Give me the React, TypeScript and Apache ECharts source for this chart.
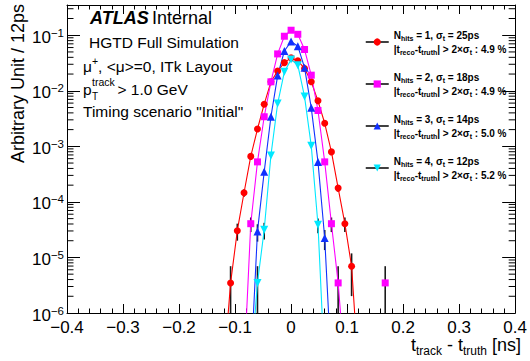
import React, { useEffect, useRef } from "react";
import * as echarts from "echarts";

// ---------------- data ----------------
const BIN_WIDTH = 0.012; // ns (12 ps bins)
const ENTRY_WEIGHT = 3.48e-6; // normalised weight of one entry
const Y_MIN = 1e-6;
const Y_MAX = 0.35;
const ZERO_FLOOR = 1e-7; // empty bins (drawn below the axis, clipped)

const X_MIN = -0.4;
const X_MAX = 0.4;
const X_INTERVAL = 0.1;

// bin indices (bin centre = index * BIN_WIDTH) and contents; null = not drawn
const hits1Bins = [-10, -9, -8, -7, -6, -5, -4, -3, -2, -1, 0, 1, 2, 3, 4, 5, 6, 7, 8, 9, 10];
const hits1Values = [0, 3.48e-6, 3.03e-5, 1.46e-4, 6.59e-4, 2.05e-3, 5.73e-3, 0.0145, 0.0226, 0.0321, 0.0391, 0.0346, 0.0252, 0.0145, 6.59e-3, 2.6e-3, 7.94e-4, 1.77e-4, 4.05e-5, 6.92e-6, 0];

const hits2Bins = [-7, -6, -5, -4, -3, -2, -1, 0, 1, 2, 3, 4, 5, 6, 7, 8, 9, 10, 11, 12, 13, 14];
const hits2Values = [0, 4.05e-5, 5.25e-4, 3.41e-3, 0.0145, 0.0461, 0.0959, 0.123, 0.104, 0.0553, 0.0191, 4.42e-3, 5.25e-4, 4.05e-5, 3.48e-6, 0, null, null, null, null, null, 3.48e-6];

const hits3Bins = [-6, -5, -4, -3, -2, -1, 0, 1, 2, 3, 4, 5, 6];
const hits3Values = [0, 2.94e-5, 3.47e-4, 3.41e-3, 0.01875, 0.052, 0.0771, 0.0635, 0.0261, 4.93e-3, 5.25e-4, 2.24e-5, 0];

const hits4Bins = [-6, -5, -4, -3, -2, -1, 0, 1, 2, 3, 4, 5];
const hits4Values = [0, 3.48e-6, 3.15e-5, 6.87e-4, 5.89e-3, 0.0219, 0.0366, 0.0289, 7.87e-3, 1.02e-3, 3.88e-5, 0];

const legendHits = [1, 2, 3, 4];
const legendSigma = [25, 18, 14, 12];
const legendTailFraction = ["4.9", "4.9", "5.0", "5.2"];

const seriesColors = ["#ff0000", "#ff00ff", "#1030ff", "#00e8ff"];
const seriesSymbols = ["circle", "rect", "triangle", "path://M0,0 L10,0 L5,9 Z"];
const seriesSymbolSizes = [7, 7, 8, 8];

const FONT = "'Liberation Sans', Arial, Helvetica, sans-serif";

const allBins = [hits1Bins, hits2Bins, hits3Bins, hits4Bins];
const allValues = [hits1Values, hits2Values, hits3Values, hits4Values];

const seriesName = (i: number) => `Nhits = ${legendHits[i]}`;

function buildLineData(bins: number[], values: (number | null)[]) {
  return bins.map((b, i) => {
    const v = values[i];
    const x = +(b * BIN_WIDTH).toFixed(4);
    if (v === null) return [x, "-"];
    return [x, v > 0 ? v : ZERO_FLOOR];
  });
}

function buildErrorData(bins: number[], values: (number | null)[]) {
  const out: number[][] = [];
  bins.forEach((b, i) => {
    const v = values[i];
    if (v === null || v <= 0) return;
    const err = Math.sqrt(v * ENTRY_WEIGHT);
    out.push([+(b * BIN_WIDTH).toFixed(4), Math.max(v - err, ZERO_FLOOR), v + err]);
  });
  return out;
}

function minorLogValues() {
  const out: number[][] = [];
  for (let e = -6; e <= -1; e++) {
    for (let m = 2; m <= 9; m++) {
      const v = m * Math.pow(10, e);
      if (v < Y_MAX) out.push([X_MIN, v]);
    }
  }
  return out;
}

const sub = (size: number) => ({ fontSize: size, fontFamily: FONT, color: "#000", fontWeight: "bold" as const, verticalAlign: "bottom" as const });

export default function App() {
  const ref = useRef<HTMLDivElement>(null);

  useEffect(() => {
    if (!ref.current) return;
    const chart = echarts.init(ref.current, null, { renderer: "svg" });

    const lineSeries = allBins.map((bins, i) => ({
      type: "line",
      name: seriesName(i),
      data: buildLineData(bins, allValues[i]),
      symbol: seriesSymbols[i],
      symbolSize: seriesSymbolSizes[i],
      showSymbol: true,
      connectNulls: false,
      clip: true,
      lineStyle: { color: seriesColors[i], width: 1.1 },
      itemStyle: { color: seriesColors[i], borderWidth: 0 },
      z: 3,
    }));

    const errorData: number[][] = [];
    allBins.forEach((bins, i) => errorData.push(...buildErrorData(bins, allValues[i])));

    const axisLineStyle = { color: "#000", width: 1 };

    const option: any = {
      animation: false,
      backgroundColor: "#fff",
      grid: { left: 67, right: 10, top: 5, bottom: 48 },
      xAxis: [
        {
          type: "value",
          min: X_MIN,
          max: X_MAX,
          interval: X_INTERVAL,
          position: "bottom",
          axisLine: { show: true, onZero: false, lineStyle: axisLineStyle },
          axisTick: { show: true, inside: true, length: 9, lineStyle: axisLineStyle },
          minorTick: { show: true, splitNumber: 5, length: 4.5, lineStyle: axisLineStyle },
          splitLine: { show: false },
          axisLabel: {
            color: "#000",
            fontSize: 17,
            fontFamily: FONT,
            margin: 6,
            lineHeight: 16,
            formatter: (v: number) => (Math.abs(v) < 1e-9 ? "0" : (v < 0 ? "\u2212" : "") + Math.abs(v).toFixed(1)),
          },
        },
        {
          type: "value",
          min: X_MIN,
          max: X_MAX,
          interval: X_INTERVAL,
          position: "top",
          axisLine: { show: true, onZero: false, lineStyle: axisLineStyle },
          axisTick: { show: true, inside: true, length: 9, lineStyle: axisLineStyle },
          minorTick: { show: true, splitNumber: 5, length: 4.5, lineStyle: axisLineStyle },
          splitLine: { show: false },
          axisLabel: { show: false },
        },
      ],
      yAxis: [
        {
          type: "log",
          logBase: 10,
          min: Y_MIN,
          max: Y_MAX,
          position: "left",
          axisLine: { show: true, onZero: false, lineStyle: axisLineStyle },
          axisTick: { show: true, inside: true, length: 13, lineStyle: axisLineStyle },
          splitLine: { show: false },
          axisLabel: {
            showMaxLabel: false,
            margin: 3,
            formatter: (v: number) => {
              const e = Math.log10(v);
              const r = Math.round(e);
              if (Math.abs(e - r) > 1e-6) return "";
              return `{b|10}{p|\u2212${-r}}`;
            },
            rich: {
              b: { fontSize: 17, fontFamily: FONT, color: "#000", lineHeight: 17, padding: [4, 0, 0, 0] },
              p: { fontSize: 11.5, fontFamily: FONT, color: "#000", verticalAlign: "top" },
            },
          },
        },
        {
          type: "log",
          logBase: 10,
          min: Y_MIN,
          max: Y_MAX,
          position: "right",
          axisLine: { show: true, onZero: false, lineStyle: axisLineStyle },
          axisTick: { show: true, inside: true, length: 13, lineStyle: axisLineStyle },
          splitLine: { show: false },
          axisLabel: { show: false },
        },
      ],
      legend: {
        orient: "vertical",
        left: 365,
        top: 30,
        padding: 0,
        itemGap: 16,
        itemWidth: 23,
        itemHeight: 9,
        selectedMode: false,
        data: legendHits.map((_, i) => seriesName(i)),
        lineStyle: { color: "#000", width: 1.5 },
        formatter: (name: string) => {
          const i = legendHits.findIndex((_, k) => seriesName(k) === name);
          return (
            `{b|N}{s|hits}{b| = ${legendHits[i]}, \u03c3}{s|t}{b| = ${legendSigma[i]}ps}\n` +
            `{b||t}{s|reco}{b|-t}{s|truth}{b|| > 2\u00d7\u03c3}{s|t}{b| : ${legendTailFraction[i]} %}`
          );
        },
        textStyle: {
          color: "#000",
          fontFamily: FONT,
          rich: {
            b: { fontSize: 10, fontFamily: FONT, color: "#000", fontWeight: "bold", lineHeight: 14 },
            s: sub(7),
          },
        },
      },
      graphic: [
        {
          type: "text",
          x: 90,
          y: 18,
          style: {
            text: "{a|ATLAS} {n|Internal}",
            verticalAlign: "middle",
            rich: {
              a: { fontSize: 18, fontFamily: FONT, fontWeight: "bold", fontStyle: "italic", fill: "#000" },
              n: { fontSize: 18, fontFamily: FONT, fill: "#000" },
            },
          },
        },
        {
          type: "text",
          x: 89,
          y: 42,
          style: { text: "HGTD Full Simulation", fontSize: 15.5, fontFamily: FONT, fill: "#000", verticalAlign: "middle" },
        },
        {
          type: "text",
          x: 83,
          y: 66,
          style: {
            text: "{n|\u03bc}{p|+}{n|, <\u03bc>=0, ITk Layout}",
            verticalAlign: "middle",
            rich: {
              n: { fontSize: 15.5, fontFamily: FONT, fill: "#000", lineHeight: 22 },
              p: { fontSize: 10.5, fontFamily: FONT, fill: "#000", verticalAlign: "top" },
            },
          },
        },
        {
          type: "text",
          x: 83,
          y: 89.5,
          style: { text: "p", fontSize: 15.5, fontFamily: FONT, fill: "#000", verticalAlign: "middle" },
        },
        {
          type: "text",
          x: 92,
          y: 81.5,
          style: { text: "track", fontSize: 10.5, fontFamily: FONT, fill: "#000", verticalAlign: "middle" },
        },
        {
          type: "text",
          x: 92,
          y: 96.5,
          style: { text: "T", fontSize: 10, fontFamily: FONT, fill: "#000", verticalAlign: "middle" },
        },
        {
          type: "text",
          x: 117.5,
          y: 89.5,
          style: { text: "> 1.0 GeV", fontSize: 15.5, fontFamily: FONT, fill: "#000", verticalAlign: "middle" },
        },
        {
          type: "text",
          x: 83,
          y: 111,
          style: { text: 'Timing scenario "Initial"', fontSize: 15.5, fontFamily: FONT, fill: "#000", verticalAlign: "middle" },
        },
        {
          type: "text",
          x: 18,
          y: 4,
          rotation: Math.PI / 2,
          style: { text: "Arbitrary Unit / 12ps", fontSize: 18, fontFamily: FONT, fill: "#000", align: "right", verticalAlign: "middle" },
        },
        {
          type: "text",
          x: 521,
          y: 345,
          style: {
            text: "{m|t}{s|track}{m| - t}{s|truth}{m| [ns]}",
            align: "right",
            verticalAlign: "middle",
            rich: {
              m: { fontSize: 18, fontFamily: FONT, fill: "#000", lineHeight: 24 },
              s: { fontSize: 12, fontFamily: FONT, fill: "#000", verticalAlign: "bottom" },
            },
          },
        },
      ],
      series: [
        {
          type: "custom",
          name: "errors",
          clip: true,
          z: 2,
          encode: { x: 0, y: [1, 2] },
          data: errorData,
          renderItem: (_p: any, api: any) => {
            const x = api.value(0);
            const lo = Math.max(api.value(1), Y_MIN);
            const hi = Math.min(api.value(2), Y_MAX);
            if (hi <= Y_MIN) return null;
            const p1 = api.coord([x, lo]);
            const p2 = api.coord([x, hi]);
            return {
              type: "line",
              shape: { x1: p1[0], y1: p1[1], x2: p2[0], y2: p2[1] },
              style: { stroke: "#1a1a1a", lineWidth: 1.6 },
            };
          },
        },
        {
          type: "custom",
          name: "minorTicks",
          z: 5,
          encode: { x: 0, y: 1 },
          data: minorLogValues(),
          renderItem: (_p: any, api: any) => {
            const v = api.value(1);
            const l = api.coord([X_MIN, v]);
            const r = api.coord([X_MAX, v]);
            const st = { stroke: "#000", lineWidth: 1 };
            return {
              type: "group",
              children: [
                { type: "line", shape: { x1: l[0], y1: l[1], x2: l[0] + 6.5, y2: l[1] }, style: st },
                { type: "line", shape: { x1: r[0] - 6.5, y1: r[1], x2: r[0], y2: r[1] }, style: st },
              ],
            };
          },
        },
        ...lineSeries,
      ],
    };

    chart.setOption(option);
    return () => chart.dispose();
  }, []);

  return (
    <div
      ref={ref}
      style={{ position: "fixed", left: 0, top: 0, width: 530, height: 361, background: "#fff" }}
    />
  );
}
